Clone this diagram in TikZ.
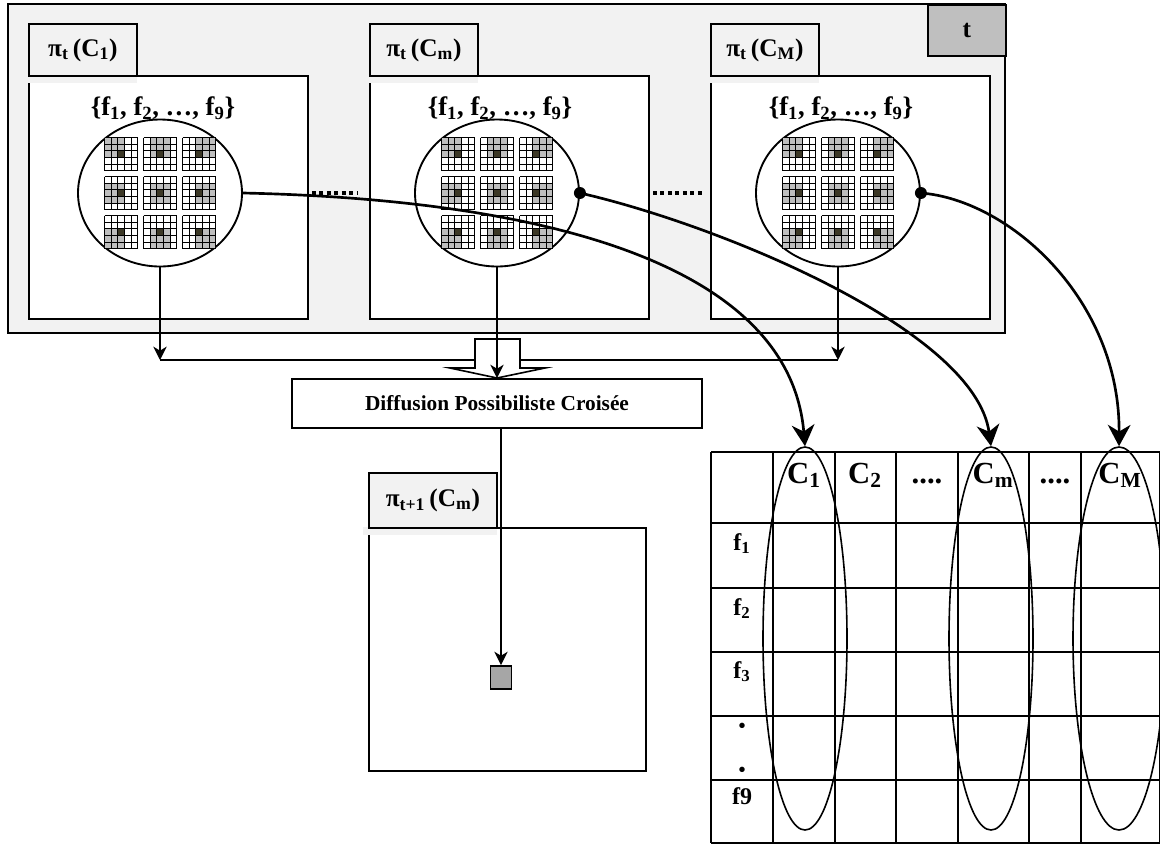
\documentclass[tikz,border=0pt]{standalone}
\usepackage{fontspec}
\setmainfont{Liberation Serif}
\usetikzlibrary{arrows.meta,positioning,calc,shapes.geometric}
\definecolor{frameGray}{RGB}{242,242,242}
\definecolor{tagGray}{RGB}{191,191,191}
\definecolor{cellGray}{RGB}{190,190,190}
\definecolor{cellDark}{RGB}{60,56,38}
\definecolor{pixGray}{RGB}{166,166,166}
\newcommand{\pxu}{0.75pt}

% one 5x5 patch, top left at (#1,#2), gray block shifted by (#3,#4)
\newcommand{\patch}[4]{%
  \foreach \ci in {1,2,3}{%
    \foreach \ri in {1,2,3}{%
      \fill[cellGray] ({#1+(#3+\ci-1)*6.6},{#2+(#4+\ri-1)*6.6}) rectangle ++(6.6,6.6);
    }}
  \fill[cellDark] ({#1+13.2},{#2+13.2}) rectangle ++(6.6,6.6);
  \foreach \k in {0,...,5}{%
    \draw[cellline] ({#1+\k*6.6},{#2}) -- ++(0,33);
    \draw[cellline] ({#1},{#2+\k*6.6}) -- ++(33,0);
  }
}
% the nine patches f1..f9 around (#1,#2)
\newcommand{\patchset}[2]{%
  \foreach \gj in {0,1,2}{%
    \foreach \gi in {0,1,2}{%
      \patch{#1-55.5+\gi*39}{#2-55.5+\gj*39}{\gi}{\gj}
    }}
}

\begin{document}
\begin{tikzpicture}[x=0.75pt, y=-0.75pt,
  panel/.style={draw, line width=1.4pt, fill=white, anchor=north west, inner sep=0pt},
  tag/.style={draw, line width=1.4pt, fill=frameGray, anchor=north west, inner sep=0pt,
    minimum width=108*\pxu, minimum height=52*\pxu, font=\fontsize{19}{21}\selectfont\bfseries},
  blob/.style={ellipse, draw, line width=1.4pt, fill=white, inner sep=0pt,
    minimum width=164*\pxu, minimum height=147*\pxu},
  settext/.style={font=\fontsize{20}{22}\selectfont\bfseries},
  cellline/.style={line width=0.6pt},
  link/.style={line width=1.4pt, -{Stealth[length=10pt,width=10pt,inset=3pt]}},
  sweep/.style={line width=2pt, -{Stealth[length=16pt,width=17pt,inset=5pt]}},
  dotrun/.style={line width=3pt, dash pattern=on 3pt off 2.6pt},
  tabline/.style={line width=1.4pt},
  colring/.style={ellipse, draw, line width=1.2pt, inner sep=0pt,
    minimum width=84*\pxu, minimum height=383*\pxu},
  colhead/.style={anchor=base, font=\fontsize{23}{25}\selectfont\bfseries},
  rowhead/.style={anchor=base, font=\fontsize{18}{20}\selectfont\bfseries}
]
\useasboundingbox (0,0) rectangle (1160,847);

% time t
\draw[line width=1.4pt, fill=frameGray] (8,4) rectangle (1005,333);
\node[draw, line width=1.4pt, fill=tagGray, anchor=north west, inner sep=0pt,
  minimum width=78*\pxu, minimum height=51*\pxu,
  font=\fontsize{19}{20}\selectfont\bfseries] (tbox) at (927,4) {t};

\foreach \n/\x in {1/28, m/369, M/710}{
  \node[panel, minimum width=279*\pxu, minimum height=243*\pxu] (box\n) at (\x,75) {};
  \fill[frameGray] ([xshift=-1pt]\x,75) rectangle ([xshift=1pt,yshift=-6pt]\x+108,75);
  \node[tag] (tag\n) at (\x,23) {π\textsubscript{t}\,(C\textsubscript{\n})};
}

\foreach \n/\x in {1/160, m/497, M/838}{
  \node[blob] (e\n) at (\x,193) {};
  \node[settext] (set\n) at (\x+3,108) {\{f\textsubscript{1}, f\textsubscript{2}, …, f\textsubscript{9}\}};
  \patchset{\x}{193}
}

\draw[dotrun] (312,193) -- (357,193);
\draw[dotrun] (653,193) -- (704,193);

% fusion
\coordinate (j1) at (160,360);
\coordinate (jM) at (838,360);
\draw[link] (e1.south) -- (j1);
\draw[link] (eM.south) -- (jM);
\draw[line width=1.4pt] (j1) -- (jM);
\draw[line width=1.2pt, fill=white] (475,339) -- (520,339) -- (520,368) -- (545,368)
  -- (497,378) -- (450,368) -- (475,368) -- cycle;
\node[draw, line width=1.4pt, fill=white, inner sep=0pt, minimum width=410*\pxu,
  minimum height=49*\pxu, font=\fontsize{16}{18}\selectfont\bfseries] (diff) at (497,403.5)
  {Diffusion Possibiliste Croisée};
\draw[link] (em.south) -- (diff.north);

% time t+1
\node[panel, minimum width=277*\pxu, minimum height=243*\pxu] (boxn) at (368,527) {};
\fill[frameGray] (363,527) rectangle (497,535);
\node[tag, minimum width=128*\pxu, minimum height=55*\pxu] (tagn) at (368,472)
  {π\textsubscript{t+1}\,(C\textsubscript{m})};
\node[draw, line width=1.4pt, fill=pixGray, inner sep=0pt, minimum width=21*\pxu,
  minimum height=23*\pxu] (pix) at (501,677.5) {};
\draw[link] (diff.south -| pix.north) -- (pix.north);

% table
\foreach \x in {711,773,835,896,958,1029,1081,1160}
  \draw[tabline] (\x,452) -- (\x,843);
\foreach \y in {452,523,588,652,716,780,843}
  \draw[tabline] (711,\y) -- (1160,\y);

\node[colhead] (h1) at (804,483) {C\textsubscript{1}};
\node[colhead] (h2) at (865,483) {C\textsubscript{2}};
\node[colhead] (hd1) at (927,483) {....};
\node[colhead] (hm) at (993,483) {C\textsubscript{m}};
\node[colhead] (hd2) at (1055,483) {....};
\node[colhead] (hM) at (1120,483) {C\textsubscript{M}};

\node[rowhead] (r1) at (742,550) {f\textsubscript{1}};
\node[rowhead] (r2) at (742,615) {f\textsubscript{2}};
\node[rowhead] (r3) at (742,678) {f\textsubscript{3}};
\node[font=\fontsize{15}{15}\selectfont\bfseries] (r4) at (742,728) {•};
\node[font=\fontsize{15}{15}\selectfont\bfseries] (r5) at (742,772) {•};
\node[rowhead] (r9) at (742,804) {f9};

\node[colring] (k1) at (805,638.5) {};
\node[colring] (km) at (991,638.5) {};
\node[colring, minimum width=92*\pxu] (kM) at (1119,638.5) {};

% links to the table
\draw[sweep] (e1.east) .. controls (560,200) and (790,270) .. (k1.north);
\draw[sweep] (em.east) .. controls (720,225) and (975,330) .. (km.north);
\draw[sweep] (eM.east) .. controls (1010,200) and (1120,300) .. (kM.north);
\fill (em.east) circle (4.5pt);
\fill (eM.east) circle (4.5pt);
\end{tikzpicture}
\end{document}
